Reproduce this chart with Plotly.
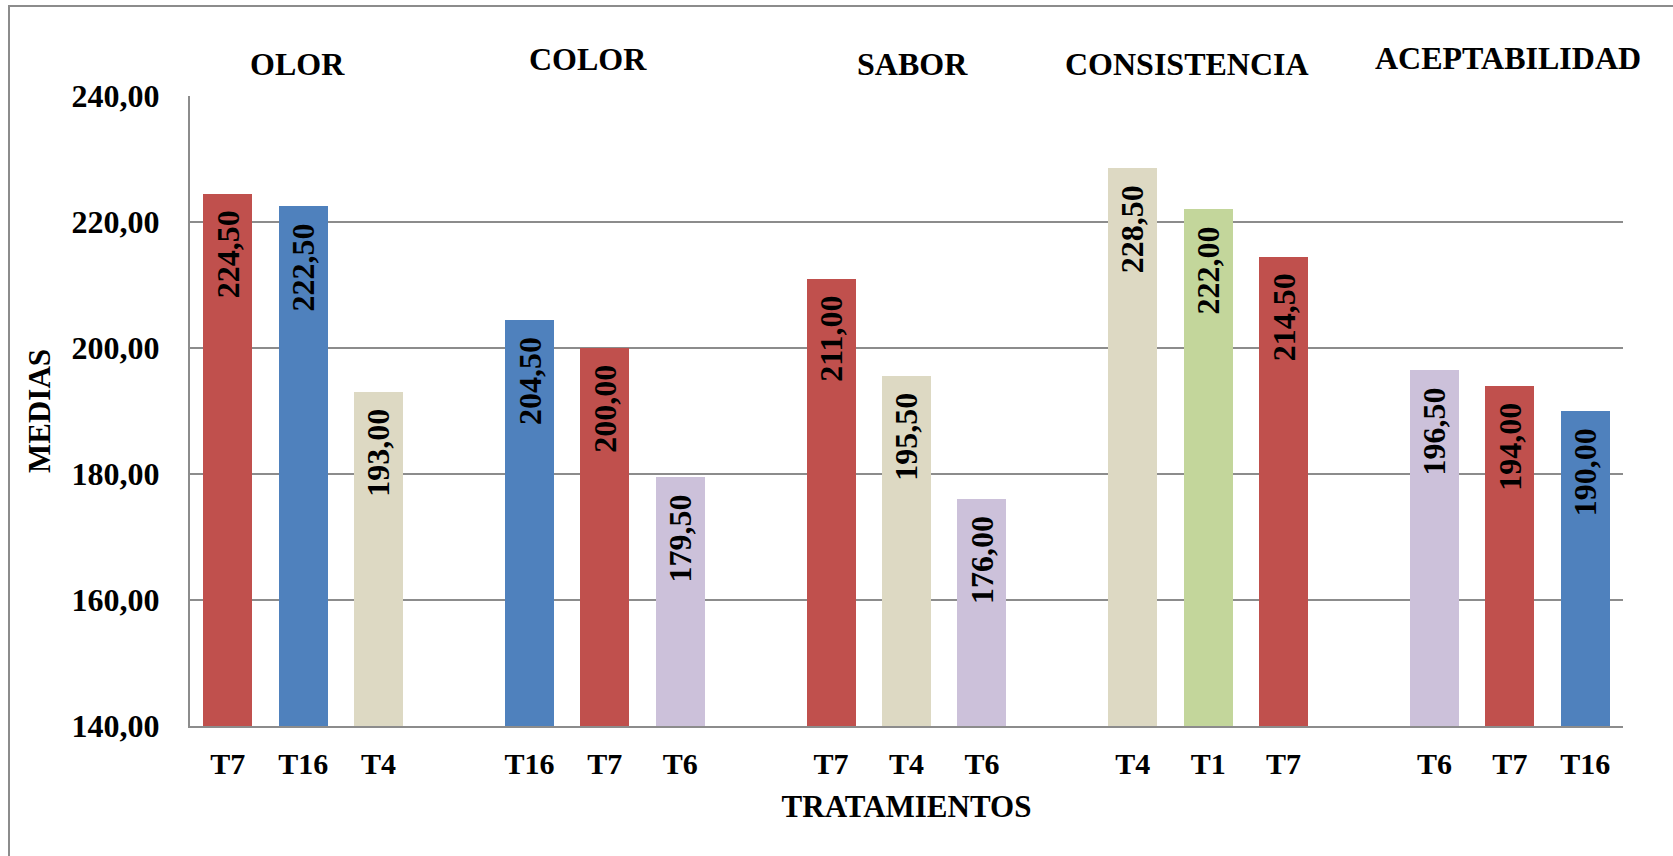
import plotly.graph_objects as go

groups = ["OLOR", "COLOR", "SABOR", "CONSISTENCIA", "ACEPTABILIDAD"]
treatments = [
    ["T7", "T16", "T4"],
    ["T16", "T7", "T6"],
    ["T7", "T4", "T6"],
    ["T4", "T1", "T7"],
    ["T6", "T7", "T16"],
]
values = [
    [224.50, 222.50, 193.00],
    [204.50, 200.00, 179.50],
    [211.00, 195.50, 176.00],
    [228.50, 222.00, 214.50],
    [196.50, 194.00, 190.00],
]
colors = {
    "T7": "#C0504D",
    "T16": "#4F81BD",
    "T4": "#DDD9C3",
    "T6": "#CCC1DA",
    "T1": "#C3D69B",
}

FONT = "Liberation Serif"

xs, ys, labels, cols, texts = [], [], [], [], []
for g, (ts, vs) in enumerate(zip(treatments, values)):
    for i, (t, v) in enumerate(zip(ts, vs)):
        xs.append(g * 4 + i)
        ys.append(v)
        labels.append(t)
        cols.append(colors[t])
        texts.append("<b>" + f"{v:.2f}".replace(".", ",") + "</b>")

fig = go.Figure()
fig.add_trace(go.Bar(
    x=xs, y=ys, width=0.65, marker=dict(color=cols, line=dict(width=0)),
    showlegend=False, hoverinfo="x+y",
))

# value labels inside the bars, reading upwards, anchored at bar top
for x, y, t in zip(xs, ys, texts):
    fig.add_annotation(
        x=x, y=y, xref="x", yref="y", text=t, textangle=-90,
        showarrow=False, font=dict(family=FONT, size=32, color="black"),
        xanchor="center", yanchor="top", yshift=-15,
    )

# group titles
title_x = [0.93, 4.78, 9.08, 12.72, 16.97]
title_y = [64, 59, 64, 64, 58]
for name, tx, ty in zip(groups, title_x, title_y):
    fig.add_annotation(
        x=tx, y=(726 - ty) / 630, xref="x", yref="paper", text=f"<b>{name}</b>",
        showarrow=False, font=dict(family=FONT, size=32, color="black"),
        xanchor="center", yanchor="middle",
    )

fig.add_shape(type="rect", xref="paper", yref="paper",
              x0=(9 - 190) / 1433, x1=2, y0=-2, y1=(726 - 6) / 630,
              line=dict(color="#8C8C8C", width=2), fillcolor="rgba(0,0,0,0)", layer="below")

fig.update_layout(
    width=1673, height=856,
    margin=dict(l=190, r=50, t=96, b=130),
    paper_bgcolor="white", plot_bgcolor="white",
    separators=", ",
    bargap=0,
    font=dict(family=FONT, color="black"),
    xaxis=dict(
        range=[-0.5, 18.5], tickvals=xs, ticktext=[f"<b>{l}</b>" for l in labels],
        tickfont=dict(family=FONT, size=30, color="black"),
        showgrid=False, zeroline=False, showline=True, linecolor="#8C8C8C", linewidth=2,
        ticks="", ticklabelstandoff=10,
        title=dict(text="<b>TRATAMIENTOS</b>", font=dict(family=FONT, size=31, color="black"), standoff=16),
    ),
    yaxis=dict(
        range=[140, 240], tickvals=[140, 160, 180, 200, 220, 240], tickformat=".2f",
        tickfont=dict(family=FONT, size=32, color="black", weight="bold"),
        showgrid=True, gridcolor="#8C8C8C", gridwidth=1.5,
        zeroline=False, showline=True, linecolor="#8C8C8C", linewidth=2,
        ticks="", ticklabelstandoff=22,
        title=dict(text="<b>MEDIAS</b>", font=dict(family=FONT, size=31, color="black"), standoff=12),
    ),
)

fig.write_html("out.html")
